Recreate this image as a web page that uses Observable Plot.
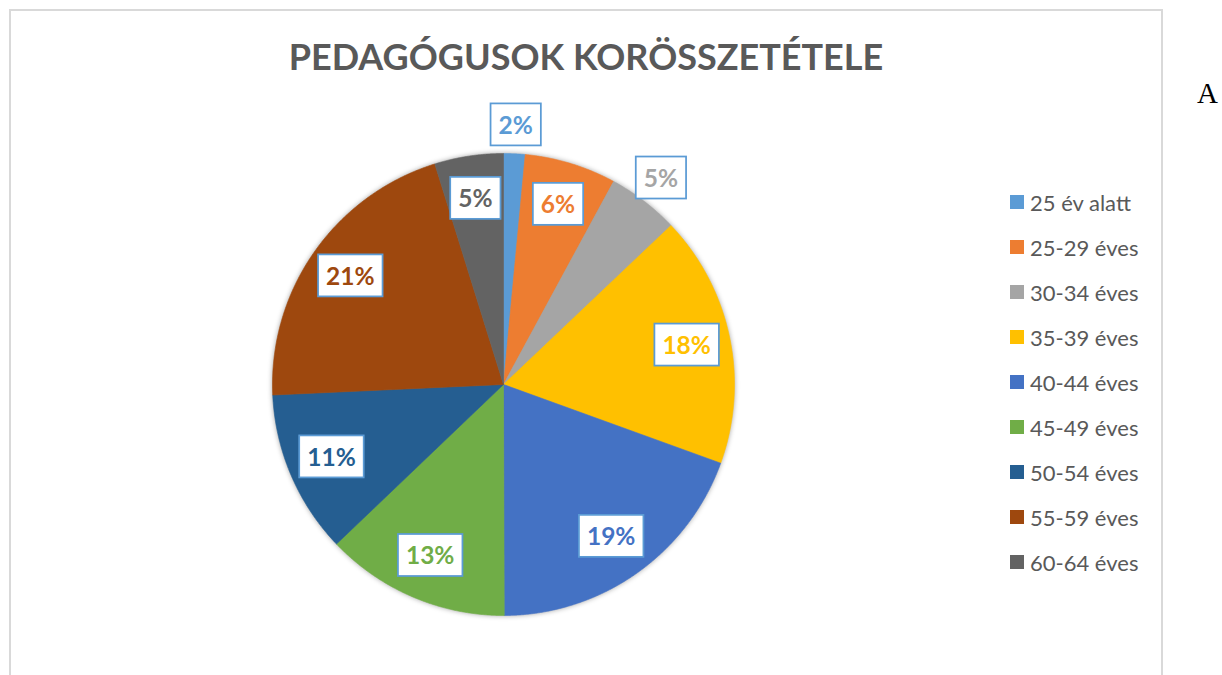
<!DOCTYPE html>
<html><head><meta charset="utf-8">
<script src="https://cdn.jsdelivr.net/npm/d3@7"></script>
<script src="https://cdn.jsdelivr.net/npm/@observablehq/plot@0.6"></script>
<style>
body{margin:0;background:#fff;width:1222px;height:675px;overflow:hidden;position:relative;font-family:Lato,sans-serif}
#frame{position:absolute;left:9px;top:9px;width:1154px;height:720px;border:2px solid #d9d9d9;box-sizing:border-box}
#title{position:absolute;left:9px;width:1154px;top:38px;text-align:center;font:700 36px/36px Lato;color:#595959;white-space:nowrap}
#legend{position:absolute;left:1010px;top:179.5px}
.item{height:45px;display:flex;align-items:center;font:400 22px/45px Lato;color:#595959;white-space:nowrap}
.sw{width:14px;height:14px;margin-right:6px;flex:none}
#chart{position:absolute;left:0;top:0}
#A{position:absolute;left:1197px;top:79px;font:400 29px/29px "Liberation Serif";color:#000}
</style></head><body>
<div id="frame"></div>
<div id="title">PEDAGÓGUSOK KORÖSSZETÉTELE</div>
<div id="chart"></div>
<div id="legend"></div>
<div id="A">A</div>
<script>
// ---- data ----
const categories = ["25 év alatt", "25-29 éves", "30-34 éves", "35-39 éves", "40-44 éves", "45-49 éves", "50-54 éves", "55-59 éves", "60-64 éves"];
const shares = [1.5, 6.4, 5.0, 17.6, 19.4, 12.9, 11.4, 20.9, 4.8];
const labels = ["2%", "6%", "5%", "18%", "19%", "13%", "11%", "21%", "5%"];
const colors = ["#5b9bd5", "#ed7d31", "#a5a5a5", "#ffc000", "#4472c4", "#70ad47", "#255e91", "#9e480e", "#636363"];
const title = "PEDAGÓGUSOK KORÖSSZETÉTELE";

// ---- geometry (angles via d3.pie, clockwise from 12 o'clock) ----
const arcs = d3.pie().sort(null).value(d => d)(shares);
const outside = new Set(["25 év alatt", "30-34 éves"]);
const step = Math.PI / 720;
const sliceRows = [];
arcs.forEach((a, i) => {
  const cat = categories[i];
  sliceRows.push({cat, x: 0, y: 0});
  const n = Math.max(2, Math.ceil((a.endAngle - a.startAngle) / step));
  for (let k = 0; k <= n; k++) {
    const t = a.startAngle + (a.endAngle - a.startAngle) * k / n;
    sliceRows.push({cat, x: Math.sin(t), y: Math.cos(t)});
  }
  sliceRows.push({cat, x: 0, y: 0});
});
const labelRows = arcs.map((a, i) => {
  const m = (a.startAngle + a.endAngle) / 2;
  const r = outside.has(categories[i]) ? 1.12 : 0.81;
  return {cat: categories[i], label: labels[i], x: r * Math.sin(m), y: r * Math.cos(m)};
});

const svg = Plot.plot({
  width: 1222, height: 675,
  margin: 0,
  style: {background: "transparent", overflow: "visible"},
  x: {domain: [-1, 1], range: [272, 734], axis: null},
  y: {domain: [-1, 1], range: [615, 153], axis: null},
  color: {domain: categories, range: colors},
  marks: [
    Plot.line(sliceRows, {x: "x", y: "y", z: "cat", fill: "cat", stroke: "cat", strokeWidth: 0.6, curve: "linear"}),
    Plot.text(labelRows, {x: "x", y: "y", text: "label", fill: "cat", fontSize: 24.5, fontWeight: "bold", fontFamily: "Lato"})
  ]
});
document.getElementById("chart").append(svg);
svg.querySelectorAll('g[aria-label="line"]').forEach(g => g.style.filter = "drop-shadow(0 0 2.5px rgba(0,0,0,0.35))");
svg.querySelectorAll('g[aria-label="text"] text').forEach(t => {
  const b = t.getBBox();
  const r = document.createElementNS("http://www.w3.org/2000/svg", "rect");
  r.setAttribute("x", b.x - 8);
  r.setAttribute("y", b.y - 6.5);
  r.setAttribute("width", b.width + 16);
  r.setAttribute("height", b.height + 13);
  r.setAttribute("fill", "#fff");
  r.setAttribute("stroke", "#5b9bd5");
  r.setAttribute("stroke-width", 1.75);
  const tr = t.getAttribute("transform");
  if (tr) r.setAttribute("transform", tr);
  t.parentNode.insertBefore(r, t);
});

// ---- legend ----
const lg = document.getElementById("legend");
categories.forEach((c, i) => {
  const it = document.createElement("div");
  it.className = "item";
  const sw = document.createElement("span");
  sw.className = "sw";
  sw.style.background = colors[i];
  it.append(sw, document.createTextNode(c));
  lg.append(it);
});
document.getElementById("title").textContent = title;
</script>
</body></html>
